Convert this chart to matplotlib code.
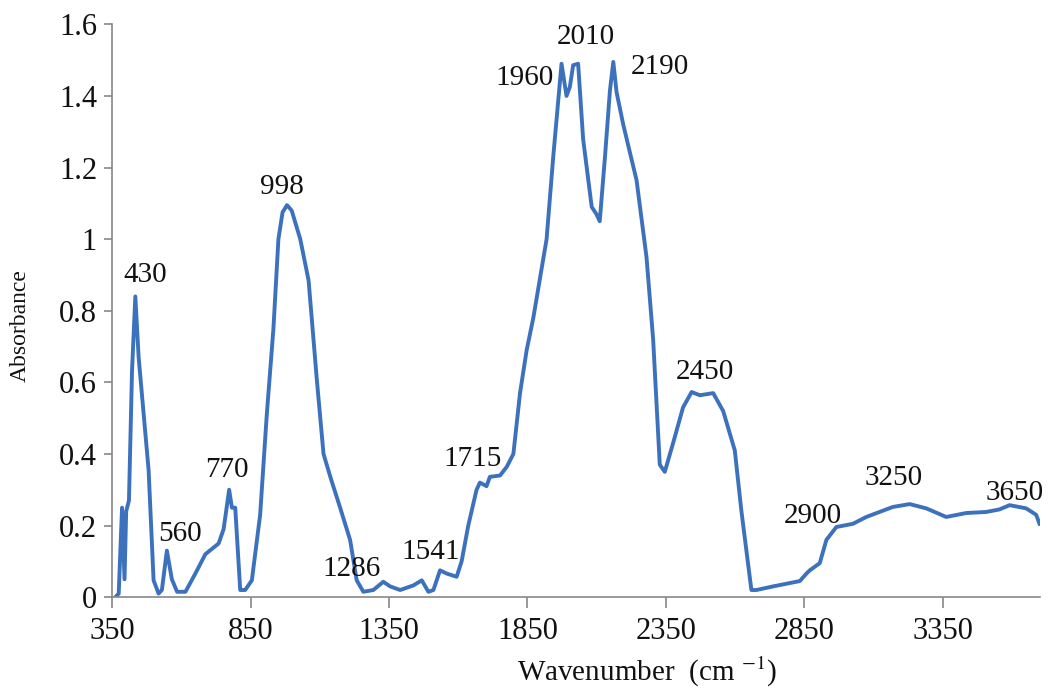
import matplotlib
matplotlib.use("Agg")
import matplotlib.pyplot as plt
from matplotlib.ticker import FuncFormatter

plt.rcParams['font.family'] = ['Liberation Serif', 'DejaVu Serif']
plt.rcParams['mathtext.fontset'] = 'stix'

# spectrum
wavenumber = [361, 373, 385, 394, 400, 410, 421, 433, 445, 481, 499, 517, 529, 547, 565, 584,
              614, 650, 686, 734, 752, 772, 782, 794, 812, 830, 854, 884, 908, 932, 950, 965,
              981, 998, 1029, 1059, 1089, 1113, 1140, 1173, 1209, 1233, 1257, 1293, 1329, 1354,
              1390, 1438, 1468, 1492, 1510, 1534, 1558, 1594, 1612, 1636, 1666, 1678, 1702,
              1714, 1751, 1775, 1799, 1823, 1847, 1871, 1919, 1943, 1973, 1991, 2003, 2015,
              2033, 2051, 2082, 2099, 2111, 2130, 2148, 2160, 2172, 2196, 2244, 2280, 2304,
              2328, 2346, 2376, 2412, 2443, 2473, 2521, 2557, 2599, 2623, 2659, 2677, 2737,
              2834, 2858, 2870, 2906, 2930, 2966, 3026, 3074, 3122, 3170, 3231, 3291, 3363,
              3435, 3507, 3555, 3592, 3652, 3688, 3700]
absorbance = [0.0, 0.01, 0.25, 0.05, 0.24, 0.27, 0.63, 0.84, 0.67, 0.355, 0.047, 0.01, 0.02,
              0.13, 0.05, 0.015, 0.015, 0.066, 0.12, 0.15, 0.19, 0.30, 0.25, 0.25, 0.02, 0.02,
              0.047, 0.23, 0.51, 0.75, 1.0, 1.075, 1.095, 1.08, 1.0, 0.885, 0.606, 0.40, 0.33,
              0.25, 0.16, 0.047, 0.015, 0.02, 0.043, 0.03, 0.02, 0.033, 0.047, 0.015, 0.02,
              0.075, 0.066, 0.057, 0.10, 0.20, 0.30, 0.32, 0.31, 0.336, 0.34, 0.364, 0.40, 0.57,
              0.69, 0.78, 1.00, 1.23, 1.49, 1.40, 1.425, 1.486, 1.49, 1.28, 1.09, 1.07, 1.05,
              1.23, 1.416, 1.495, 1.41, 1.32, 1.165, 0.95, 0.72, 0.37, 0.35, 0.43, 0.53, 0.573,
              0.564, 0.57, 0.52, 0.41, 0.24, 0.02, 0.02, 0.03, 0.045, 0.066, 0.075, 0.095, 0.16,
              0.196, 0.205, 0.224, 0.238, 0.252, 0.26, 0.248, 0.224, 0.235, 0.238, 0.245, 0.257,
              0.248, 0.23, 0.205]

# peak labels: text, x, y (data units)
peak_text = ["430", "560", "770", "998", "1286", "1541", "1715", "1960", "2010", "2190",
             "2450", "2900", "3250", "3650"]
peak_x = [469, 595, 765, 964, 1216, 1502, 1650, 1841, 2061, 2328, 2491, 2881, 3173, 3610]
peak_y = [0.90, 0.176, 0.355, 1.145, 0.078, 0.125, 0.385, 1.45, 1.565, 1.48, 0.63, 0.226,
          0.332, 0.29]

xticks = [350, 850, 1350, 1850, 2350, 2850, 3350]
yticks = [0, 0.2, 0.4, 0.6, 0.8, 1.0, 1.2, 1.4, 1.6]

fig = plt.figure(figsize=(10.5, 6.96), dpi=100)
ax = fig.add_axes([0.107, 0.142, 0.883, 0.823])

ax.plot(wavenumber, absorbance, color='#3C71BE', lw=2.8, solid_joinstyle='round')

for t, x, y in zip(peak_text, peak_x, peak_y):
    ax.text(x, y, t, fontsize=21, ha='center', va='center', color='#111111')

ax.set_xlim(350, 3700)
ax.set_ylim(0, 1.6)
ax.set_xticks(xticks)
ax.set_yticks(yticks)
ax.yaxis.set_major_formatter(FuncFormatter(lambda v, p: '%g' % v))
ax.tick_params(axis='y', labelsize=22, length=6, width=1.2, color='#888888', pad=5,
               labelcolor='#111111')
ax.tick_params(axis='x', labelsize=22, length=8, width=1.2, color='#888888', pad=6,
               labelcolor='#111111')

for s in ['top', 'right']:
    ax.spines[s].set_visible(False)
for s in ['left', 'bottom']:
    ax.spines[s].set_color('#888888')
    ax.spines[s].set_linewidth(1.2)

ax.set_ylabel('Absorbance', fontsize=17, color='#111111')
ax.set_xlabel(r'Wavenumber  (cm $^{-1}$)', fontsize=21, color='#111111')
ax.yaxis.set_label_coords(-0.088, 0.475)
ax.xaxis.set_label_coords(0.577, -0.1)

fig.savefig('out.png', dpi=100, facecolor='white')
